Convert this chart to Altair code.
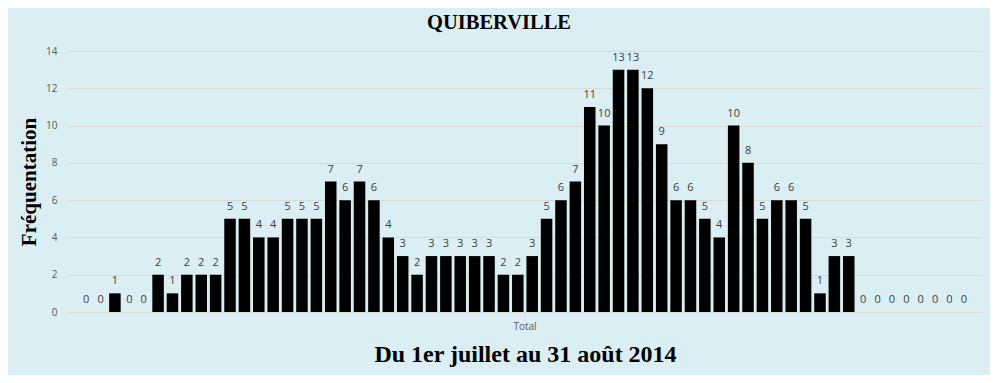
import altair as alt
import pandas as pd

title_top = "QUIBERVILLE"
y_title = "Fréquentation"
x_title = "Du 1er juillet au 31 août 2014"
category = "Total"
days = list(range(1, 63))
values = [0, 0, 1, 0, 0, 2, 1, 2, 2, 2,
          5, 5, 4, 4, 5, 5, 5, 7, 6, 7,
          6, 4, 3, 2, 3, 3, 3, 3, 3, 2,
          2, 3, 5, 6, 7, 11, 10, 13, 13, 12,
          9, 6, 6, 5, 4, 10, 8, 5, 6, 6,
          5, 1, 3, 3, 0, 0, 0, 0, 0, 0,
          0, 0]
y_ticks = [0, 2, 4, 6, 8, 10, 12, 14]

df = pd.DataFrame({"cat": category, "day": days, "value": values})

x_enc = alt.X(
    "cat:N",
    scale=alt.Scale(paddingInner=0, paddingOuter=0),
    axis=alt.Axis(
        title=x_title, labelAngle=0, labelColor="#595959", labelFontSize=10,
        labelFont="Open Sans", labelPadding=4, ticks=True, tickColor="#d9d9d9",
        tickSize=5, domainColor="#d9d9d9",
        titleFont="Liberation Serif", titleFontSize=24, titleFontWeight="bold",
        titleColor="#000000", titlePadding=11,
    ),
)
xo_enc = alt.XOffset("day:O", scale=alt.Scale(paddingInner=0.2, paddingOuter=0.86))
y_enc = alt.Y(
    "value:Q",
    scale=alt.Scale(domain=[0, 14], nice=False),
    axis=alt.Axis(
        values=y_ticks, grid=True, gridColor="#d9d9d9", domain=False, ticks=False,
        labelColor="#595959", labelFontSize=10, labelFont="Open Sans", labelPadding=11,
        title=y_title, titleFont="Liberation Serif", titleFontSize=21,
        titleFontWeight="bold", titleColor="#000000", titlePadding=6,
    ),
)

base = alt.Chart(df).encode(x=x_enc, xOffset=xo_enc, y=y_enc)
bars = base.mark_bar(color="#000000")
labels = base.mark_text(
    dy=-9, baseline="alphabetic", fontSize=11, font="Open Sans", color="#404040"
).encode(text="value:Q")

chart = (
    alt.layer(bars, labels)
    .properties(
        width=914, height=261,
        autosize=alt.AutoSizeParams(type="none"),
        padding={"left": 60, "top": 43, "right": 8, "bottom": 63},
        background="#DAEEF3",
        title=alt.TitleParams(
            title_top, font="Liberation Serif", fontSize=20.5, fontWeight="bold",
            color="#000000", anchor="middle", dx=-26, offset=13,
        ),
    )
    .configure_view(stroke=None)
)

chart.save("out.html", embed_options={"renderer": "svg", "actions": False})
